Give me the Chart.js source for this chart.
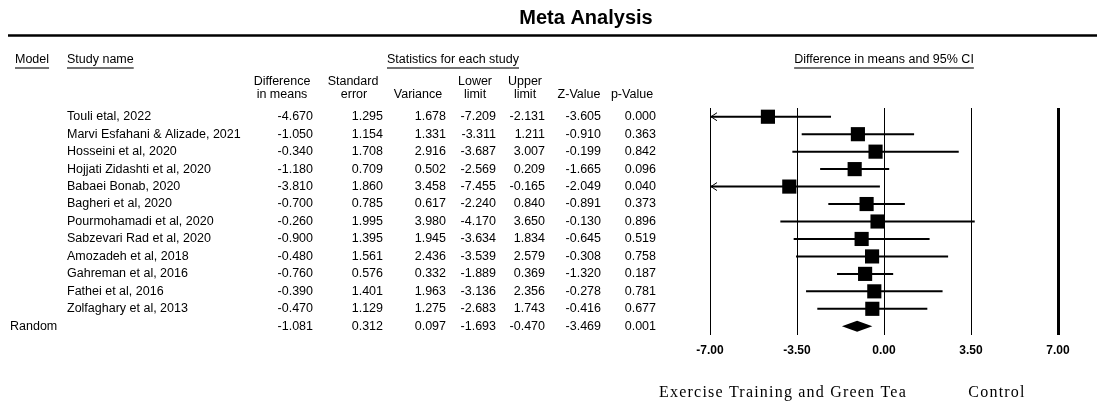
<!DOCTYPE html>
<html>
<head>
<meta charset="utf-8">
<title>Meta Analysis</title>
<script src="https://cdn.jsdelivr.net/npm/chart.js@4/dist/chart.umd.min.js"></script>
<style>
  html, body { margin: 0; padding: 0; background: #fff; }
  #forest { display: block; }
</style>
</head>
<body>
<canvas id="forest" width="1097" height="403"></canvas>
<script>
// study rows
const studies = [
    "Touli etal, 2022",
    "Marvi Esfahani & Alizade, 2021",
    "Hosseini et al, 2020",
    "Hojjati Zidashti et al, 2020",
    "Babaei Bonab, 2020",
    "Bagheri et al, 2020",
    "Pourmohamadi et al, 2020",
    "Sabzevari Rad et al, 2020",
    "Amozadeh et al, 2018",
    "Gahreman et al, 2016",
    "Fathei et al, 2016",
    "Zolfaghary et al, 2013"
];
const diffMeans   = [-4.670, -1.050, -0.340, -1.180, -3.810, -0.700, -0.260, -0.900, -0.480, -0.760, -0.390, -0.470];
const stdErrors   = [1.295, 1.154, 1.708, 0.709, 1.860, 0.785, 1.995, 1.395, 1.561, 0.576, 1.401, 1.129];
const variances   = [1.678, 1.331, 2.916, 0.502, 3.458, 0.617, 3.980, 1.945, 2.436, 0.332, 1.963, 1.275];
const lowerLimits = [-7.209, -3.311, -3.687, -2.569, -7.455, -2.240, -4.170, -3.634, -3.539, -1.889, -3.136, -2.683];
const upperLimits = [-2.131, 1.211, 3.007, 0.209, -0.165, 0.840, 3.650, 1.834, 2.579, 0.369, 2.356, 1.743];
const zValues     = [-3.605, -0.910, -0.199, -1.665, -2.049, -0.891, -0.130, -0.645, -0.308, -1.320, -0.278, -0.416];
const pValues     = [0.000, 0.363, 0.842, 0.096, 0.040, 0.373, 0.896, 0.519, 0.758, 0.187, 0.781, 0.677];

// random effects summary row
const summaryModel = "Random";
const summaryStats = [-1.081, 0.312, 0.097, -1.693, -0.470, -3.469, 0.001]; // diff, se, var, lower, upper, z, p

// x axis ticks
const xTicks = [-7.00, -3.50, 0.00, 3.50, 7.00];

const xMin = xTicks[0], xMax = xTicks[xTicks.length - 1];
const summaryRow = studies.length;

const FONT = "'Liberation Sans', Arial, sans-serif";
const BODY = "12.5px " + FONT;
const SERIF = "16px 'Liberation Serif', 'Times New Roman', serif";

// right edges of each numeric column
const colRight = [313, 383, 446, 496, 545, 601, 656];

function txt(ctx, s, x, y, align, font) {
    ctx.font = font || BODY;
    ctx.textAlign = align || "left";
    ctx.textBaseline = "middle";
    ctx.fillText(s, x, y);
}

function underlined(ctx, s, x, y, align) {
    txt(ctx, s, x, y, align);
    let w = ctx.measureText(s).width;
    let x0 = align === "center" ? x - w / 2 : x;
    ctx.save();
    ctx.strokeStyle = "#444";
    ctx.lineWidth = 1.5;
    ctx.beginPath();
    ctx.moveTo(x0, y + 8);
    ctx.lineTo(x0 + w, y + 8);
    ctx.stroke();
    ctx.restore();
}

const forestPlugin = {
    id: "forest",
    beforeDatasetsDraw(chart) {
        const ctx = chart.ctx, xs = chart.scales.x, ys = chart.scales.y;
        ctx.save();
        ctx.strokeStyle = "#000";
        studies.forEach((s, i) => {
            let y = ys.getPixelForValue(i);
            let lo = Math.max(lowerLimits[i], xMin);
            let hi = Math.min(upperLimits[i], xMax);
            let x0 = xs.getPixelForValue(lo), x1 = xs.getPixelForValue(hi);
            ctx.lineWidth = 2;
            ctx.beginPath();
            ctx.moveTo(x0, y);
            ctx.lineTo(x1, y);
            ctx.stroke();
            if (lowerLimits[i] < xMin) {
                // clipped CI gets an open arrow at the axis edge
                ctx.lineWidth = 1;
                ctx.beginPath();
                ctx.moveTo(x0 + 7, y - 4);
                ctx.lineTo(x0 + 1, y);
                ctx.lineTo(x0 + 7, y + 4);
                ctx.stroke();
            }
        });
        ctx.restore();
    },
    afterDraw(chart) {
        const ctx = chart.ctx, xs = chart.scales.x, ys = chart.scales.y;
        ctx.save();
        ctx.fillStyle = "#000";

        // summary diamond
        let yS = ys.getPixelForValue(summaryRow);
        ctx.beginPath();
        ctx.moveTo(xs.getPixelForValue(summaryStats[3]), yS);
        ctx.lineTo(xs.getPixelForValue(summaryStats[0]), yS - 5.5);
        ctx.lineTo(xs.getPixelForValue(summaryStats[4]), yS);
        ctx.lineTo(xs.getPixelForValue(summaryStats[0]), yS + 5.5);
        ctx.closePath();
        ctx.fill();

        // title and rule
        txt(ctx, "Meta Analysis", 586, 18, "center", "bold 20px " + FONT);
        ctx.lineWidth = 2.5;
        ctx.beginPath();
        ctx.moveTo(8, 35.5);
        ctx.lineTo(1097, 35.5);
        ctx.stroke();

        // headers
        underlined(ctx, "Model", 15, 60, "left");
        underlined(ctx, "Study name", 67, 60, "left");
        underlined(ctx, "Statistics for each study", 453, 60, "center");
        underlined(ctx, "Difference in means and 95% CI", 884, 60, "center");
        txt(ctx, "Difference", 282, 82, "center");
        txt(ctx, "in means", 282, 95, "center");
        txt(ctx, "Standard", 353, 82, "center");
        txt(ctx, "error", 354, 95, "center");
        txt(ctx, "Variance", 418, 95, "center");
        txt(ctx, "Lower", 475, 82, "center");
        txt(ctx, "limit", 475, 95, "center");
        txt(ctx, "Upper", 525, 82, "center");
        txt(ctx, "limit", 525, 95, "center");
        txt(ctx, "Z-Value", 579, 95, "center");
        txt(ctx, "p-Value", 632, 95, "center");

        // rows
        studies.forEach((s, i) => {
            let y = ys.getPixelForValue(i);
            txt(ctx, s, 67, y, "left");
            let vals = [diffMeans[i], stdErrors[i], variances[i], lowerLimits[i], upperLimits[i], zValues[i], pValues[i]];
            vals.forEach((v, j) => txt(ctx, v.toFixed(3), colRight[j], y, "right"));
        });
        txt(ctx, summaryModel, 10, yS, "left");
        summaryStats.forEach((v, j) => txt(ctx, v.toFixed(3), colRight[j], yS, "right"));

        // favours labels
        ctx.letterSpacing = "1.2px";
        txt(ctx, "Exercise Training and Green Tea", 783, 393, "center", SERIF);
        txt(ctx, "Control", 997, 393, "center", SERIF);
        ctx.letterSpacing = "0px";
        ctx.restore();
    }
};

let canvas = document.getElementById("forest");
new Chart(canvas.getContext("2d"), {
    type: "scatter",
    data: {
        datasets: [{
            data: diffMeans.map((d, i) => ({ x: d, y: i })),
            pointStyle: "rect",
            pointRadius: 10,
            backgroundColor: "#000",
            borderColor: "#000",
            borderWidth: 0
        }]
    },
    options: {
        responsive: false,
        animation: false,
        layout: { padding: { left: 710, right: 39, top: 108, bottom: 38 } },
        plugins: { legend: { display: false }, tooltip: { enabled: false } },
        scales: {
            x: {
                type: "linear",
                min: xMin,
                max: xMax,
                afterBuildTicks: s => { s.ticks = xTicks.map(v => ({ value: v })); },
                afterFit: s => { s.height = 30; },
                ticks: {
                    callback: v => Number(v).toFixed(2),
                    color: "#000",
                    padding: 8,
                    maxRotation: 0,
                    font: { family: FONT, size: 12, weight: "bold" }
                },
                grid: {
                    color: "#000",
                    drawTicks: false,
                    lineWidth: c => (c.tick && c.tick.value === xMax) ? 3 : 1
                },
                border: { display: false }
            },
            y: {
                type: "linear",
                display: false,
                min: -0.5,
                max: summaryRow + 0.5,
                reverse: true
            }
        }
    },
    plugins: [forestPlugin]
});
</script>
</body>
</html>
